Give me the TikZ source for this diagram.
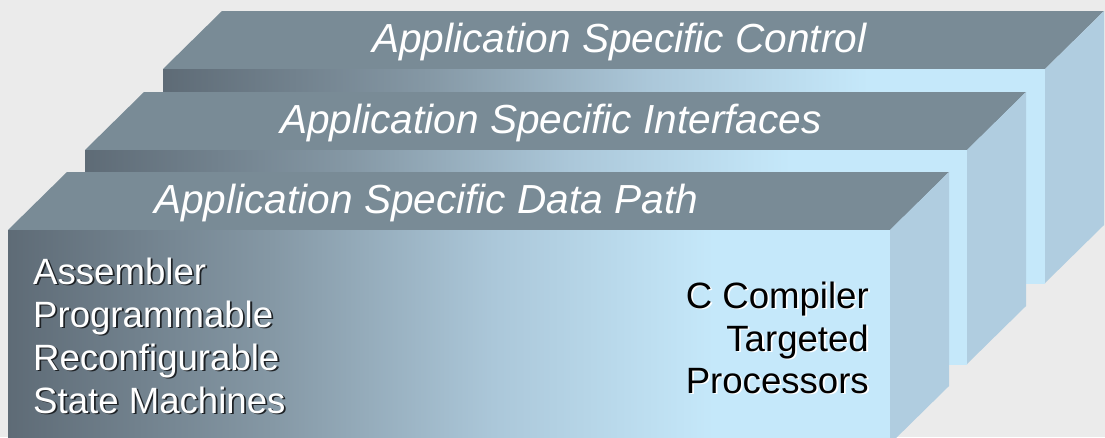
\documentclass[tikz,border=0pt]{standalone}
\usepackage{fontspec}
\setmainfont{Liberation Sans}
\definecolor{bg}{HTML}{EBEBEB}
\definecolor{topc}{HTML}{798B96}
\definecolor{sidec}{HTML}{B0CDE0}
\definecolor{fdark}{HTML}{5E6B76}
\definecolor{fmida}{HTML}{8598A5}
\definecolor{fmidb}{HTML}{ABC7D9}
\definecolor{flight}{HTML}{C5E8FA}
\definecolor{shdark}{HTML}{1E2226}
\pgfdeclarehorizontalshading{frontsh}{100bp}{color(0bp)=(fdark); color(25bp)=(fdark); color(40bp)=(fmida); color(52.5bp)=(fmidb); color(65bp)=(flight); color(100bp)=(flight)}
\newcommand{\shw}[2]{\makebox[0pt][l]{\kern1.8pt\raisebox{-1.8pt}{\textcolor{#1}{#2}}}#2}
\newcommand{\slab}[2]{%
  \fill[topc] (#1,#2) -- ++(59,-58) -- ++(882,0) -- ++(-59,58) -- cycle;
  \shade[shading=frontsh] (#1,#2) rectangle ++(882,214);
  \fill[sidec] (#1+882,#2) -- ++(59,-58) -- ++(0,214) -- ++(-59,58) -- cycle;
}
\tikzset{
  title/.style={text=white, font=\fontsize{40.6}{48}\selectfont\itshape, inner sep=0pt, anchor=base west},
  lefttxt/.style={text=white, font=\fontsize{36.6}{43}\selectfont, inner sep=0pt, anchor=base west},
  righttxt/.style={text=black, font=\fontsize{36.6}{43}\selectfont, inner sep=0pt, anchor=base east}
}
\begin{document}
\begin{tikzpicture}[x=1pt,y=-1pt]
\useasboundingbox (0,0) rectangle (1105,437);
\clip (0,0) rectangle (1105,437);
\fill[bg] (0,0) rectangle (1105,437);
\slab{163}{69}
\slab{85}{150}
\slab{8}{230}
\node[title] (tc) at (372,52) {Application Specific Control};
\node[title] (ti) at (280,133) {Application Specific Interfaces};
\node[title] (td) at (154,213) {Application Specific Data Path};
\node[lefttxt] (l1) at (33,284) {\shw{shdark}{Assembler}};
\node[lefttxt] (l2) at (33,327) {\shw{shdark}{Programmable}};
\node[lefttxt] (l3) at (33,370) {\shw{shdark}{Reconfigurable}};
\node[lefttxt] (l4) at (33,413) {\shw{shdark}{State Machines}};
\node[righttxt] (r1) at (869,308) {\shw{white}{C Compiler}};
\node[righttxt] (r2) at (869,351) {\shw{white}{Targeted}};
\node[righttxt] (r3) at (869,393) {\shw{white}{Processors}};
\end{tikzpicture}
\end{document}
